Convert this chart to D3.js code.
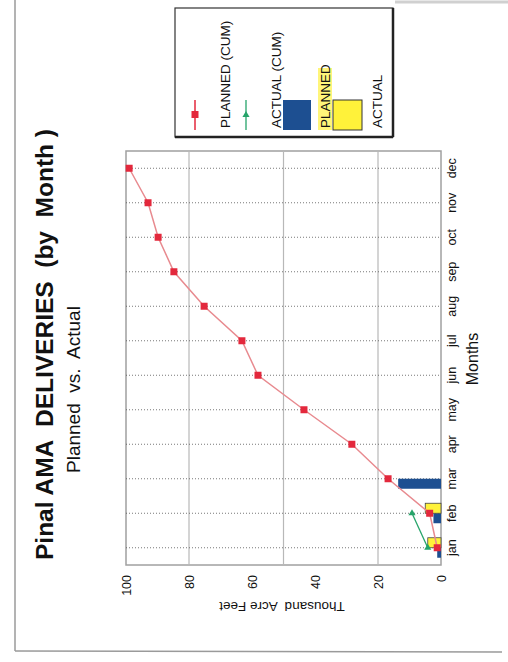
<!DOCTYPE html>
<html><head><meta charset="utf-8">
<script src="https://cdn.jsdelivr.net/npm/d3@7"></script>
<style>
html,body{margin:0;padding:0;background:#fff;}
svg{display:block;font-family:"Liberation Sans",Arial,Helvetica,sans-serif;}
</style></head>
<body>
<script>
// ---- data ----
const months = ["jan","feb","mar","apr","may","jun","jul","aug","sep","oct","nov","dec"];
const plannedCum = [1.2, 3.6, 16.8, 28.3, 43.5, 58.1, 63.2, 75.2, 84.8, 89.8, 93.0, 99.0];
const actualCum = [4.2, 9.2];
const plannedMonthly = [1.2, 2.4, 13.6];
const actualMonthly = [4.2, 5.0];
const valueTicks = [0, 20, 40, 60, 80, 100];
const gridValues = [20, 50, 80];
const legendItems = ["PLANNED (CUM)", "ACTUAL (CUM)", "PLANNED", "ACTUAL"];

const PW = 508, PH = 662;
const svg = d3.select("body").append("svg").attr("width", PW).attr("height", PH);

// page border (scan)
svg.append("line").attr("x1",15).attr("y1",0).attr("x2",15).attr("y2",651).attr("stroke","#9a9a9a").attr("stroke-width",1.5);
svg.append("line").attr("x1",15).attr("y1",651).attr("x2",502).attr("y2",652).attr("stroke","#9a9a9a").attr("stroke-width",1.5);
svg.append("line").attr("x1",395).attr("y1",2).attr("x2",508).attr("y2",2).attr("stroke","#d0d0d0").attr("stroke-width",3);

// rotated chart group: original coords (u horizontal, v vertical)
const g = svg.append("g").attr("transform", `translate(0,${PH}) rotate(-90)`);

const x = d3.scaleBand().domain(months).range([97, 511]).padding(0);
const y = d3.scaleLinear().domain([0, 100]).range([441, 126]);

const red = "#e3283c", redLine = "#e88a8f", green = "#26a46a", blue = "#1d4f91", yellow = "#fff23a";

// plot frame
g.append("rect").attr("x", 97).attr("y", y(100)).attr("width", 414).attr("height", y(0) - y(100))
  .attr("fill", "none").attr("stroke", "#a0a0a0").attr("stroke-width", 1.5);

// gridlines (value)
g.selectAll(".grid").data(gridValues).join("line")
  .attr("x1", 97).attr("x2", 511).attr("y1", d => y(d)).attr("y2", d => y(d))
  .attr("stroke", "#b8b8b8").attr("stroke-width", 1.2);

// month dotted lines
g.selectAll(".mgrid").data(months).join("line")
  .attr("x1", d => x(d) + x.bandwidth() / 2).attr("x2", d => x(d) + x.bandwidth() / 2)
  .attr("y1", y(100)).attr("y2", y(0))
  .attr("stroke", "#555").attr("stroke-width", 0.8).attr("stroke-dasharray", "1,2");

// bars
const bw = 10;
g.selectAll(".pbar").data(plannedMonthly).join("rect")
  .attr("x", (d, i) => x(months[i]) + x.bandwidth() / 2 - bw)
  .attr("y", d => y(d)).attr("width", bw).attr("height", d => y(0) - y(d))
  .attr("fill", blue);
g.selectAll(".abar").data(actualMonthly).join("rect")
  .attr("x", (d, i) => x(months[i]) + x.bandwidth() / 2)
  .attr("y", d => y(d)).attr("width", bw).attr("height", d => y(0) - y(d))
  .attr("fill", yellow).attr("stroke", "#444").attr("stroke-width", 0.8);

// lines
const line = d3.line().x((d, i) => x(months[i]) + x.bandwidth() / 2).y(d => y(d));
g.append("path").datum(plannedCum).attr("d", line).attr("fill", "none").attr("stroke", redLine).attr("stroke-width", 1.5);
g.append("path").datum(actualCum).attr("d", line).attr("fill", "none").attr("stroke", green).attr("stroke-width", 1.3);

g.selectAll(".pm").data(plannedCum).join("rect")
  .attr("x", (d, i) => x(months[i]) + x.bandwidth() / 2 - 3.5).attr("y", d => y(d) - 3.5)
  .attr("width", 7).attr("height", 7).attr("fill", red);
const tri = d3.symbol().type(d3.symbolTriangle).size(22);
g.selectAll(".am").data(actualCum).join("path")
  .attr("d", tri)
  .attr("transform", (d, i) => `translate(${x(months[i]) + x.bandwidth() / 2},${y(d)}) rotate(90)`)
  .attr("fill", green);

// axes
const yAxis = g.append("g").attr("transform", "translate(97,0)")
  .call(d3.axisLeft(y).tickValues(valueTicks).tickSize(0).tickPadding(10));
yAxis.select(".domain").remove();
yAxis.selectAll("text").attr("font-size", 12.5).attr("fill", "#111").attr("font-family", "Liberation Sans, Arial, sans-serif");

const xAxis = g.append("g").attr("transform", `translate(0,${y(0)})`)
  .call(d3.axisBottom(x).tickSize(0).tickPadding(6));
xAxis.select(".domain").remove();
xAxis.selectAll("text").attr("font-size", 12.5).attr("fill", "#111").attr("font-family", "Liberation Sans, Arial, sans-serif");

// axis titles
g.append("text").attr("x", 303).attr("y", 478).attr("text-anchor", "middle")
  .attr("font-size", 16).attr("fill", "#111").text("Months");
g.append("text").attr("transform", "translate(60,282) rotate(-90)").attr("text-anchor", "middle")
  .attr("font-size", 13.5).attr("fill", "#111").style("white-space", "pre").text("Thousand  Acre Feet");

// titles
g.append("text").attr("x", 102).attr("y", 53).attr("font-size", 24.5).attr("font-weight", "bold")
  .attr("fill", "#111").style("white-space", "pre").text("Pinal AMA  DELIVERIES  (by  Month )");
g.append("text").attr("x", 189).attr("y", 80).attr("font-size", 19)
  .attr("fill", "#111").style("white-space", "pre").text("Planned  vs.  Actual");

// legend
g.append("rect").attr("x", 525).attr("y", 175).attr("width", 129).attr("height", 218)
  .attr("fill", "#fff").attr("stroke", "#333").attr("stroke-width", 1.2);
g.append("line").attr("x1", 525).attr("x2", 654).attr("y1", 393).attr("y2", 393).attr("stroke", "#222").attr("stroke-width", 2.5);
g.append("line").attr("x1", 525).attr("x2", 525).attr("y1", 175).attr("y2", 393).attr("stroke", "#222").attr("stroke-width", 2.5);

// legend symbols
g.append("line").attr("x1", 532).attr("x2", 562).attr("y1", 195).attr("y2", 195).attr("stroke", red).attr("stroke-width", 1.5);
g.append("rect").attr("x", 544).attr("y", 191.5).attr("width", 7).attr("height", 7).attr("fill", red);
g.append("line").attr("x1", 532).attr("x2", 562).attr("y1", 246).attr("y2", 246).attr("stroke", green).attr("stroke-width", 1.3);
g.append("path").attr("d", tri).attr("transform", "translate(547,246) rotate(90)").attr("fill", green);
g.append("rect").attr("x", 532).attr("y", 283).attr("width", 30).attr("height", 28).attr("fill", blue);
g.append("rect").attr("x", 532).attr("y", 333).attr("width", 30).attr("height", 29).attr("fill", yellow).attr("stroke", "#333").attr("stroke-width", 1);
// highlighter on "PLANNED"
g.append("rect").attr("x", 532).attr("y", 318).attr("width", 62).attr("height", 14).attr("fill", "#fff57a");

const legendV = [225, 276, 325, 377];
g.selectAll(".leg").data(legendItems).join("text")
  .attr("x", 534).attr("y", (d, i) => legendV[i]).attr("dy", "0.35em")
  .attr("font-size", 13.5).attr("fill", "#111").text(d => d);
</script>
</body></html>
